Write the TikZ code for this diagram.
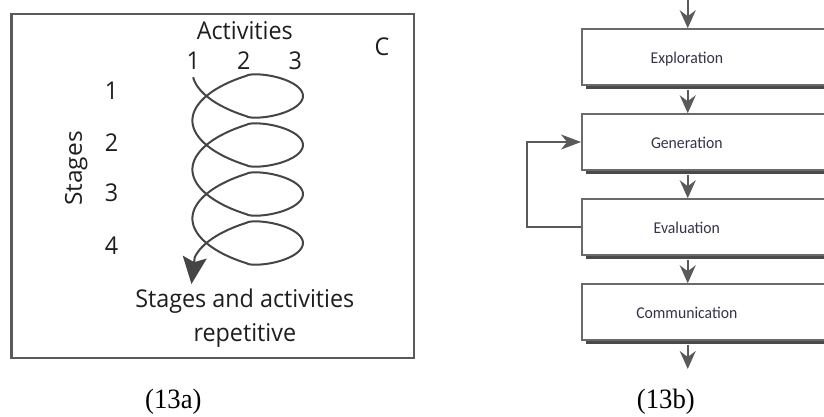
\documentclass[tikz,border=0pt]{standalone}
\usepackage{fontspec}
\setmainfont{Liberation Serif}
\newfontfamily\labfont{Open Sans}
\newfontfamily\boxfont{Carlito}
\usetikzlibrary{arrows.meta}
\definecolor{framegray}{HTML}{5A5A5A}
\definecolor{inkgray}{HTML}{454545}
\definecolor{textblack}{HTML}{1E1E1E}
\definecolor{boxline}{HTML}{6A6A6A}
\definecolor{shadowgray}{HTML}{4A4A4A}
\definecolor{boxtext}{HTML}{34344A}
\begin{document}
\begin{tikzpicture}[x=1pt,y=-1pt,xscale=0.9526,
  every node/.append style={transform shape},
  lab/.style={font=\labfont\fontsize{24.5}{28}\selectfont, text=textblack, inner sep=0pt, anchor=base},
  caption/.style={font=\fontsize{28}{32}\selectfont, text=black, inner sep=0pt, anchor=base},
  stagebox/.style={draw=boxline, line width=1.5pt, fill=white, minimum width=290pt,
    minimum height=56pt, inner sep=0pt, anchor=west,
    preaction={fill=shadowgray, transform canvas={xshift=4.5pt, yshift=-4pt}}},
  stagetext/.style={text=boxtext, inner sep=0pt, font=\boxfont\fontsize{16.5}{18}\selectfont,
    text height=10.5pt, text depth=0pt},
  flow/.style={draw=framegray, line width=1.8pt, -{Stealth[length=18pt, width=16pt, inset=6pt]}},
  loopback/.style={draw=framegray, line width=1.5pt, -{Stealth[length=20pt, width=15pt, inset=6pt]}}
]
\useasboundingbox (0,0) rectangle (865,417);
\clip (0,0) rectangle (865,417);
\fill[white] (0,0) rectangle (865,417);

% ---- left panel: stage/activity spiral ----
\draw[framegray, line width=2.2pt] (12,14) rectangle (435,358);

\node[lab] (act) at (257,39.5) {Activities};
\node[lab] (a1) at (203,70) {1};
\node[lab] (a2) at (256,70) {2};
\node[lab] (a3) at (310,70) {3};
\node[lab] (cc) at (401,56) {C};

\node[lab] (s1) at (117,100) {1};
\node[lab] (s2) at (117,152) {2};
\node[lab] (s3) at (117,202) {3};
\node[lab] (s4) at (117,255) {4};
\node[lab, rotate=90] (stg) at (86,168.5) {Stages};

\node[lab] (rep1) at (257,308) {Stages and activities};
\node[lab] (rep2) at (257,342) {repetitive};

% oblique projection of a helix, one turn per stage; the x profile is
% sharpened a little so that each turn closes in a pointed lens
\coordinate (tip) at (201,284);
\draw[inkgray, line width=2pt, line join=round,
      -{Stealth[length=27pt, width=24pt, inset=5pt]}]
  plot[domain=-3.0:21.75, samples=600, smooth]
    ({260+58*cos(\x r)*pow(abs(cos(\x r))+0.0001,0.35)}, {96+7.8*\x-33*sin(\x r)}) -- (tip);

\node[caption] (capa) at (182,409) {(13a)};

% ---- right panel: design process flow (boxes run off the right edge) ----
\node[stagebox] (ex)  at (610,57)  {};
\node[stagebox] (gen) at (610,142) {};
\node[stagebox] (ev)  at (610,227) {};
\node[stagebox] (com) at (610,312) {};
\node[stagetext] (exT)  at (721,58)  {Exploration};
\node[stagetext] (genT) at (721,143) {Generation};
\node[stagetext] (evT)  at (721,228) {Evaluation};
\node[stagetext] (comT) at (721,313) {Communication};

\coordinate (topin) at (722,0);
\coordinate (botout) at (722,369);
\draw[flow] (topin) -- (topin |- ex.north);
\draw[flow] ([yshift=-4pt]topin |- ex.south) -- (topin |- gen.north);
\draw[flow] ([yshift=-4pt]topin |- gen.south) -- (topin |- ev.north);
\draw[flow] ([yshift=-4pt]topin |- ev.south) -- (topin |- com.north);
\draw[flow] ([yshift=-4pt]topin |- com.south) -- (botout);

\draw[loopback] (ev.west) -- ++(-57,0) |- (gen.west);

\node[caption] (capb) at (699,409) {(13b)};
\end{tikzpicture}
\end{document}
